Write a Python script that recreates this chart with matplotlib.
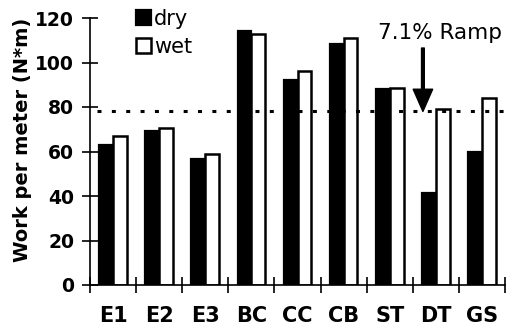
import numpy as np
import matplotlib.pyplot as plt

plt.rcParams['font.family'] = ['DejaVu Sans']

categories = ['E1', 'E2', 'E3', 'BC', 'CC', 'CB', 'ST', 'DT', 'GS']
dry = [63, 69, 56.5, 114, 92, 108.5, 88, 41.5, 60]
wet = [67, 70.5, 59, 113, 96, 111, 88.5, 79, 84]
ramp_level = 78
ramp_label = '7.1% Ramp'

fig = plt.figure(figsize=(5.07, 3.34), dpi=100)
ax = fig.add_axes([90 / 507, 49 / 334, 415 / 507, 267 / 334])

x = np.arange(len(categories))
w = 0.3
ax.bar(x - w / 2, dry, w, color='black', edgecolor='black', linewidth=1.6, label='dry')
ax.bar(x + w / 2, wet, w, color='white', edgecolor='black', linewidth=1.8, label='wet')

ax.axhline(ramp_level, xmin=0.017, xmax=1, color='black', linewidth=2.2,
           linestyle=(0, (1.3, 3.4)), zorder=1)

ax.annotate('', xy=(6.72, ramp_level), xytext=(6.72, 106.5),
            arrowprops=dict(facecolor='black', edgecolor='black', width=2.0,
                            headwidth=14, headlength=16, shrink=0))
ax.text(7.1, 110.5, ramp_label, ha='center', va='baseline', fontsize=15.5)

ax.set_xlim(-0.5, len(categories) - 0.5)
ax.set_ylim(0, 120)
ax.set_yticks(np.arange(0, 121, 20))
ax.set_xticks(np.arange(len(categories) + 1) - 0.5)
ax.set_xticklabels([])
ax.set_xticks(x, minor=True)
ax.set_xticklabels(categories, minor=True, fontsize=15, fontweight='bold')
ax.tick_params(axis='x', which='major', direction='inout', length=11, width=1.2)
ax.tick_params(axis='x', which='minor', length=0, pad=15)
ax.tick_params(axis='y', direction='inout', length=11, width=1.2, pad=6,
               labelsize=13.5)
for t in ax.get_yticklabels():
    t.set_fontweight('bold')

for s in ['top', 'right']:
    ax.spines[s].set_visible(False)
for s in ['left', 'bottom']:
    ax.spines[s].set_linewidth(1.2)

ax.set_ylabel('Work per meter (N*m)', fontsize=14, fontweight='bold')
ax.yaxis.set_label_coords(-0.14, 0.543)

ax.legend(loc='upper left', bbox_to_anchor=(0.112, 1.035), frameon=False,
          fontsize=15, handlelength=0.7, handleheight=0.75, handletextpad=0.15,
          labelspacing=0.4, borderpad=0, borderaxespad=0)

fig.savefig('out.png', dpi=100)
